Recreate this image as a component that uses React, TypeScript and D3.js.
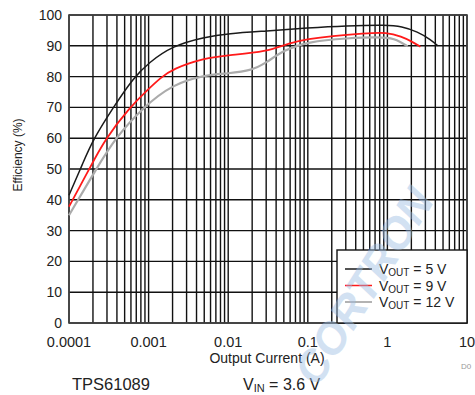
import React from "react";
import * as d3 from "d3";

const xTickValues = [0.0001, 0.001, 0.01, 0.1, 1, 10];
const xTickLabels = ["0.0001", "0.001", "0.01", "0.1", "1", "10"];
const yTickValues = [0, 10, 20, 30, 40, 50, 60, 70, 80, 90, 100];

const v5X = [0.0001, 0.00015, 0.0002, 0.00036, 0.00064, 0.001, 0.002, 0.005, 0.01, 0.03, 0.1, 0.3, 1, 1.5, 2.4, 3.5, 4.3];
const v5Y = [41.5, 52, 59.5, 70, 79.5, 84.5, 90, 92.8, 94, 94.8, 95.8, 96.5, 96.8, 96.3, 94.6, 92, 90];

const v9X = [0.0001, 0.00018, 0.00028, 0.00058, 0.001, 0.0014, 0.002, 0.005, 0.01, 0.03, 0.06, 0.1, 0.2, 0.5, 1, 1.5, 2.0, 2.6];
const v9Y = [37.8, 50, 59.5, 70, 76, 79.5, 82.5, 86, 87, 88, 91, 92.2, 93.2, 94, 94.4, 93, 91.5, 89.7];

const v12X = [0.0001, 0.00022, 0.00038, 0.00085, 0.002, 0.005, 0.01, 0.02, 0.03, 0.05, 0.1, 0.3, 1, 1.3, 1.8];
const v12Y = [35, 50, 60, 70, 77.5, 80.5, 81, 82, 84.5, 88.6, 91.3, 92.5, 92.9, 92, 89.8];

const seriesNames = ["5 V", "9 V", "12 V"];
const seriesColors = ["#1a1a1a", "#ff1a1a", "#ababab"];

export default function App() {
  const W = 475, H = 395;
  const left = 69, right = 467, top = 15, bottom = 323;
  const x = d3.scaleLog().domain([0.0001, 10]).range([left, right]);
  const y = d3.scaleLinear().domain([0, 100]).range([bottom, top]);

  const minor: number[] = [];
  for (let e = -4; e < 1; e++) {
    for (let m = 1; m <= 9; m++) minor.push(m * Math.pow(10, e));
  }
  minor.push(10);

  const line = d3
    .line<[number, number]>()
    .x((d) => x(d[0]))
    .y((d) => y(d[1]))
    .curve(d3.curveBasis);

  const series = [
    v5X.map((v, i) => [v, v5Y[i]] as [number, number]),
    v9X.map((v, i) => [v, v9Y[i]] as [number, number]),
    v12X.map((v, i) => [v, v12Y[i]] as [number, number]),
  ];
  const widths = [1.5, 1.8, 2.2];
  const font = "Liberation Sans, Arial, sans-serif";
  const txt = "#222";

  return (
    <svg width={W} height={H} style={{ position: "absolute", left: 0, top: 0, background: "#fff" }} fontFamily={font}>
      <rect x={0} y={0} width={W} height={H} fill="#fff" />
      {minor.map((v, i) => (
        <line key={"vx" + i} x1={x(v)} x2={x(v)} y1={top} y2={bottom} stroke="#111" strokeWidth={1.4} />
      ))}
      {yTickValues.map((v, i) => (
        <line key={"hy" + i} x1={left} x2={right} y1={y(v)} y2={y(v)} stroke="#111" strokeWidth={1.4} />
      ))}
      <rect x={left} y={top} width={right - left} height={bottom - top} fill="none" stroke="#444" strokeWidth={1.6} />
      {[2, 1, 0].map((k) => (
        <path key={"s" + k} d={line(series[k]) || ""} fill="none" stroke={seriesColors[k]} strokeWidth={widths[k]} />
      ))}
      {yTickValues.map((v, i) => (
        <text key={"yl" + i} x={62} y={y(v)} dy="0.36em" textAnchor="end" fontSize={14} fill={txt}>
          {v}
        </text>
      ))}
      {xTickValues.map((v, i) => (
        <text key={"xl" + i} x={x(v)} y={347} textAnchor="middle" fontSize={14.5} fill={txt}>
          {xTickLabels[i]}
        </text>
      ))}
      <text x={267} y={363} textAnchor="middle" fontSize={14} fill={txt}>Output Current (A)</text>
      <text transform="translate(22,155) rotate(-90)" textAnchor="middle" fontSize={12} fill={txt}>Efficiency (%)</text>
      <text x={72} y={390} fontSize={16.5} fill={txt}>TPS61089</text>
      <text x={243} y={390} fontSize={16} fill={txt}>
        V<tspan fontSize={11} dy={2}>IN</tspan><tspan dy={-2}> = 3.6 V</tspan>
      </text>
      <text x={461} y={369} fontSize={8} fill="#999">D0</text>
      <rect x={337} y={250} width={right - 337} height={bottom - 250} fill="#fff" stroke="#111" strokeWidth={1.4} />
      {seriesNames.map((n, i) => (
        <g key={"lg" + i}>
          <line x1={345} x2={372} y1={269 + i * 16.5} y2={269 + i * 16.5} stroke={seriesColors[i]} strokeWidth={i === 2 ? 1.8 : 1.5} />
          <text x={379} y={274 + i * 16.5} fontSize={14} fill={txt}>
            V<tspan fontSize={10} dy={2}>OUT</tspan><tspan dy={-2}> = {n}</tspan>
          </text>
        </g>
      ))}
      <text transform="translate(318,388) rotate(-58)" fontSize={44} fontWeight="bold" fontStyle="italic" fill="#9dbde3" opacity={0.45}>CORTRON</text>
    </svg>
  );
}
